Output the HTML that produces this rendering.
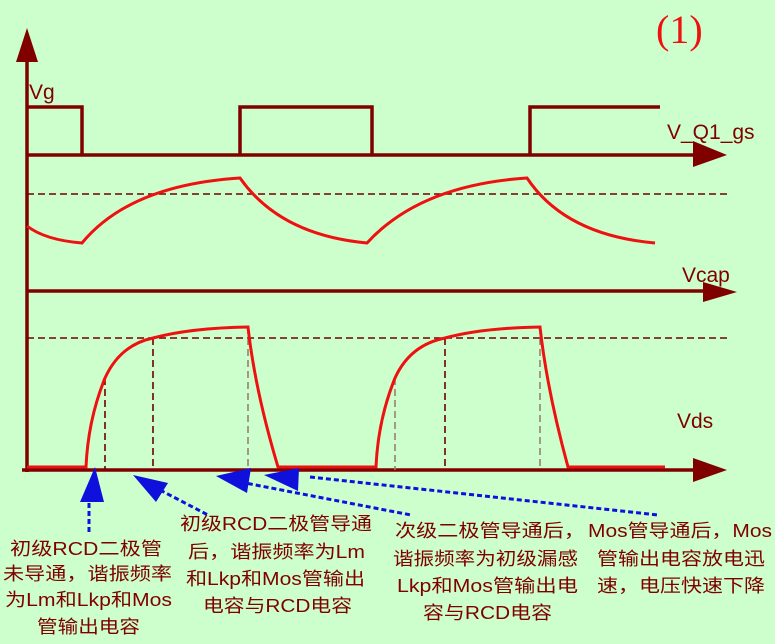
<!DOCTYPE html>
<html><head><meta charset="utf-8"><style>
html,body{margin:0;padding:0;background:#ccffcc;}
svg{display:block;}
.l{font-family:"Liberation Sans",sans-serif;font-size:21px;fill:#800000;}
.c{font-family:"Liberation Sans","Noto Sans CJK SC",sans-serif;font-size:18px;fill:#800000;}
</style></head><body>
<svg width="775" height="644" viewBox="0 0 775 644" xmlns="http://www.w3.org/2000/svg">
<rect width="775" height="644" fill="#ccffcc"/>
<g stroke="#800000" fill="none" stroke-width="3.5">
<line x1="27" y1="60" x2="27" y2="472"/>
<line x1="27" y1="155" x2="700" y2="155"/>
<line x1="27" y1="291" x2="710" y2="291"/>
<line x1="22" y1="470" x2="700" y2="470"/>
<polyline points="27,107 82,107 82,155"/>
<polyline points="240,155 240,107 372,107 372,155"/>
<polyline points="530,155 530,107 660,107"/>
</g>
<g fill="#800000">
<polygon points="27,28 16,62 38,62"/>
<polygon points="693,141 727,155 693,167"/>
<polygon points="703,282 737,292 703,302"/>
<polygon points="693,458 727,470 693,482"/>
</g>
<g stroke="#700000" stroke-width="1.6" stroke-dasharray="7,4" fill="none">
<line x1="27" y1="194" x2="727" y2="194"/>
<line x1="27" y1="338" x2="727" y2="338"/>
<line x1="105" y1="378" x2="105" y2="470"/>
<line x1="153" y1="338" x2="153" y2="470"/>
<line x1="248" y1="327" x2="248" y2="470" stroke="#998070"/>
<line x1="395" y1="378" x2="395" y2="470" stroke="#998070"/>
<line x1="445" y1="338" x2="445" y2="470"/>
<line x1="540" y1="327" x2="540" y2="470" stroke="#998070"/>
</g>
<g stroke="#ee1111" stroke-width="3" fill="none">
<path d="M27,226 Q45,240 82,243 Q130,185 240,178 Q280,235 367,243 Q420,185 527,178 Q565,235 655,243"/>
<path d="M27,467 L86,467 Q88,420 105,378 Q120,345 153,338 Q190,328 248,327 Q255,390 278,467 L376,467 Q378,420 395,378 Q410,345 445,338 Q482,328 540,327 Q547,390 568,467 L665,467"/>
</g>
<text class="l" x="29" y="99">Vg</text>
<text class="l" x="667" y="139">V_Q1_gs</text>
<text class="l" x="682" y="282">Vcap</text>
<text class="l" x="677" y="428">Vds</text>
<text x="656" y="43" font-family="'Liberation Serif',serif" font-size="40" fill="#ee1111">(1)</text>
<g stroke="#1010dd" stroke-width="3" stroke-dasharray="5,3" fill="none">
<line x1="89" y1="495" x2="89" y2="533"/>
<line x1="160" y1="490" x2="208" y2="515"/>
<line x1="240" y1="482" x2="411" y2="515"/>
<line x1="310" y1="477" x2="658" y2="515"/>
</g>
<g fill="#1010dd">
<polygon points="95,467 80,502 104,502"/>
<polygon points="133,475 168,483 156,502"/>
<polygon points="216,476 251,468 247,493"/>
<polygon points="264,475 299,468 298,491"/>
</g>
<g class="c" text-anchor="start">
<text x="10" y="555" textLength="152" lengthAdjust="spacingAndGlyphs">初级RCD二极管</text>
<text x="3" y="580" textLength="169" lengthAdjust="spacingAndGlyphs">未导通，谐振频率</text>
<text x="5" y="606" textLength="167" lengthAdjust="spacingAndGlyphs">为Lm和Lkp和Mos</text>
<text x="37" y="633" textLength="103" lengthAdjust="spacingAndGlyphs">管输出电容</text>
<text x="180" y="530" textLength="192" lengthAdjust="spacingAndGlyphs">初级RCD二极管导通</text>
<text x="188" y="558" textLength="177" lengthAdjust="spacingAndGlyphs">后，谐振频率为Lm</text>
<text x="186" y="585" textLength="179" lengthAdjust="spacingAndGlyphs">和Lkp和Mos管输出</text>
<text x="203" y="612" textLength="149" lengthAdjust="spacingAndGlyphs">电容与RCD电容</text>
<text x="395" y="537" textLength="190" lengthAdjust="spacingAndGlyphs">次级二极管导通后，</text>
<text x="393" y="565" textLength="185" lengthAdjust="spacingAndGlyphs">谐振频率为初级漏感</text>
<text x="397" y="592" textLength="181" lengthAdjust="spacingAndGlyphs">Lkp和Mos管输出电</text>
<text x="423" y="619" textLength="129" lengthAdjust="spacingAndGlyphs">容与RCD电容</text>
<text x="588" y="537" textLength="184" lengthAdjust="spacingAndGlyphs">Mos管导通后，Mos</text>
<text x="597" y="565" textLength="168" lengthAdjust="spacingAndGlyphs">管输出电容放电迅</text>
<text x="597" y="592" textLength="168" lengthAdjust="spacingAndGlyphs">速，电压快速下降</text>
</g>
</svg>
</body></html>
